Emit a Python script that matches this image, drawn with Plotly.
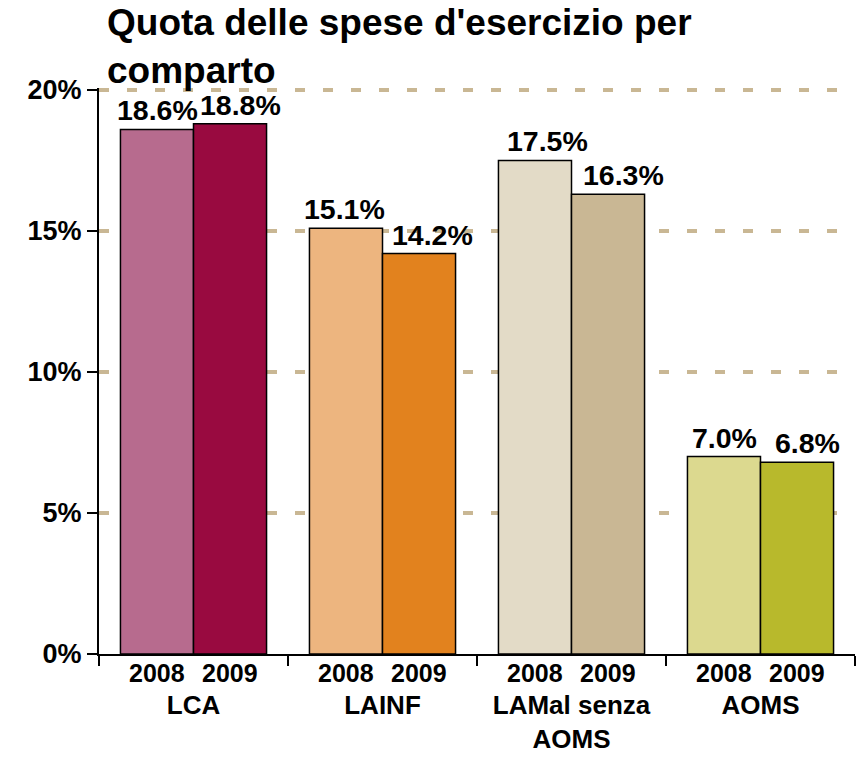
import plotly.graph_objects as go

categories = ["LCA", "LAINF", "LAMal senza<br>AOMS", "AOMS"]
years = ["2008", "2009"]
values_2008 = [18.6, 15.1, 17.5, 7.0]
values_2009 = [18.8, 14.2, 16.3, 6.8]
colors_2008 = ["#b76b8e", "#edb57f", "#e3dbc7", "#dcd98f"]
colors_2009 = ["#990a40", "#e2821e", "#c9b794", "#b8b92c"]
y_ticks = [0, 5, 10, 15, 20]
y_tick_labels = ["0%", "5%", "10%", "15%", "20%"]

FONT = "Arial, Liberation Sans, sans-serif"
W, H = 858, 757

# horizontal nudges (px) of the value labels, as placed in the original chart
label_nudge = {"2008": [0, -2, 12, 0], "2009": [10, 13, 15, 10]}

fig = go.Figure()
for vals, cols, yr in [(values_2008, colors_2008, years[0]), (values_2009, colors_2009, years[1])]:
    fig.add_trace(go.Bar(
        x=categories, y=vals, name=yr,
        marker=dict(color=cols, line=dict(color="black", width=1.5)),
        showlegend=False, hoverinfo="skip",
    ))

annotations = []
offsets = [-36.5, 36.5]
for k, (vals, yr) in enumerate([(values_2008, years[0]), (values_2009, years[1])]):
    for i, (c, v) in enumerate(zip(categories, vals)):
        annotations.append(dict(
            x=c, y=v, xref="x", yref="y", text=f"{v:.1f}%", showarrow=False,
            xshift=offsets[k] + label_nudge[yr][i], yshift=1, yanchor="bottom",
            font=dict(family=FONT, size=28.5, color="black", weight="bold"),
        ))
        annotations.append(dict(
            x=c, y=0, xref="x", yref="paper", text=yr, showarrow=False,
            xshift=offsets[k], yshift=-3, yanchor="top",
            font=dict(family=FONT, size=25, color="black", weight="bold"),
        ))

fig.update_layout(
    width=W, height=H,
    margin=dict(l=99, r=3, t=88, b=99),
    paper_bgcolor="white", plot_bgcolor="white",
    hovermode=False,
    barmode="group", bargap=0.227, bargroupgap=0,
    title=dict(
        text="Quota delle spese d'esercizio per<br>comparto",
        x=107 / W, xanchor="left", xref="container",
        y=1 - 35 / H, yanchor="top", yref="container",
        font=dict(family=FONT, size=37, color="black", weight="bold"),
    ),
    annotations=annotations,
    xaxis=dict(
        tickson="boundaries", ticks="outside", ticklen=10, tickwidth=2, tickcolor="black",
        showline=True, linecolor="black", linewidth=2, showgrid=False,
        tickfont=dict(family=FONT, size=26, color="black", weight="bold"),
        ticklabelstandoff=27,
    ),
    yaxis=dict(
        range=[0, 20.07], tickvals=y_ticks, ticktext=y_tick_labels,
        ticks="outside", ticklen=10, tickwidth=2, tickcolor="black",
        showline=True, linecolor="black", linewidth=2,
        showgrid=True, gridcolor="#c9b794", gridwidth=4, griddash="10px,18px",
        zeroline=False,
        tickfont=dict(family=FONT, size=27, color="black", weight="bold"),
    ),
)

fig.write_html(
    "out.html",
    config={"displayModeBar": False, "staticPlot": True},
    post_script="document.body.style.margin='0';document.documentElement.style.overflow='hidden';",
)
